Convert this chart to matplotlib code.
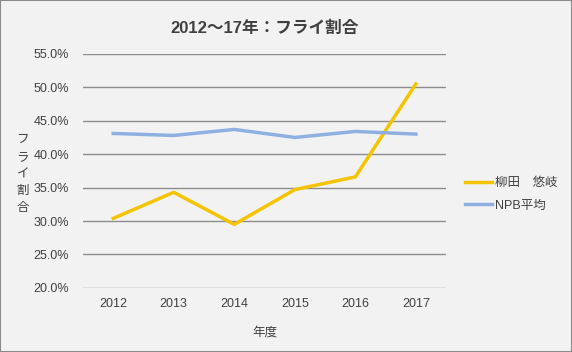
import matplotlib
matplotlib.use("Agg")
import matplotlib.pyplot as plt
from matplotlib.patches import Rectangle
from matplotlib.ticker import PercentFormatter

plt.rcParams['font.family'] = ['Liberation Sans', 'Noto Sans CJK JP', 'DejaVu Sans']

years = ['2012', '2013', '2014', '2015', '2016', '2017']
yanagita = [30.4, 34.3, 29.5, 34.7, 36.6, 50.5]
npb_avg = [43.1, 42.8, 43.7, 42.5, 43.4, 43.0]

fig = plt.figure(figsize=(5.72, 3.52), dpi=100, facecolor='#f2f2f2')
fig.patches.append(Rectangle((0, 0), 1, 1, transform=fig.transFigure,
                             fill=False, edgecolor='#8c8c8c', linewidth=1.5))
ax = fig.add_axes([0.145, 0.182, 0.635, 0.665])
ax.set_facecolor('#f2f2f2')

x = range(len(years))
ax.plot(x, yanagita, color='#f5c400', linewidth=2.5, label='柳田\u3000悠岐')
ax.plot(x, npb_avg, color='#8eb0e0', linewidth=2.5, label='NPB平均')

ax.set_xlim(-0.5, len(years) - 0.5)
ax.set_ylim(20, 55)
ax.set_yticks(range(20, 56, 5))
ax.yaxis.set_major_formatter(PercentFormatter(decimals=1))
ax.set_xticks(list(x))
ax.set_xticklabels(years)
ax.grid(axis='y', color='#8c8c8c', linewidth=1)
ax.set_axisbelow(True)
for s in ax.spines.values():
    s.set_visible(False)
ax.tick_params(length=0, labelsize=9, colors='#404040', pad=10)
ax.tick_params(axis='x', pad=7)

ax.set_title('2012〜17年：フライ割合', fontsize=12, fontweight='bold',
             color='#404040', pad=15)
ax.set_xlabel('年度', fontsize=9, color='#404040', labelpad=12)
fig.text(0.04, 0.505, 'フ\nラ\nイ\n割\n合', fontsize=9, color='#404040',
         ha='center', va='center', linespacing=1.55)

ax.legend(loc='center left', bbox_to_anchor=(1.02, 0.40), frameon=False,
          fontsize=9, handlelength=2.2, handletextpad=0.2, labelspacing=0.85,
          labelcolor='#404040')

fig.savefig('out.png', dpi=100, facecolor=fig.get_facecolor())
